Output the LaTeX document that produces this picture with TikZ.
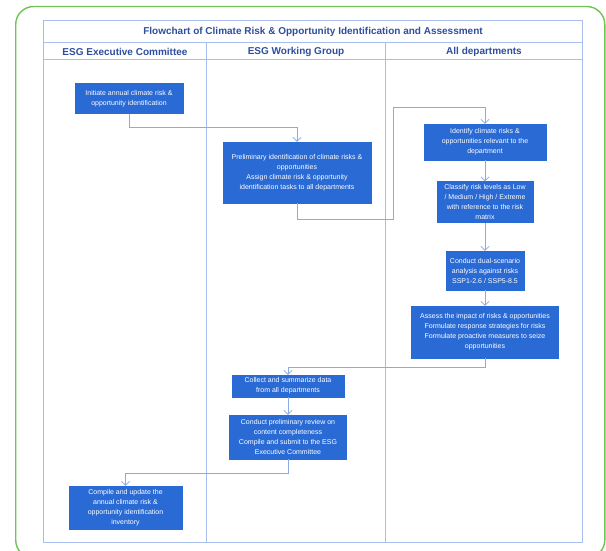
\documentclass[tikz,border=0pt]{standalone}
\usepackage{fontspec}
\setmainfont{Liberation Sans}
\usetikzlibrary{arrows.meta}

\definecolor{frameGreen}{RGB}{110,196,84}
\definecolor{gridBlue}{RGB}{168,190,236}
\definecolor{boxBlue}{RGB}{42,106,212}
\definecolor{headBlue}{RGB}{46,78,158}
\definecolor{linkBlue}{RGB}{138,170,226}

\tikzset{
  stepbox/.style={fill=boxBlue, draw=boxBlue, text=white, align=center,
    inner sep=1pt, font=\fontsize{7}{10}\selectfont},
  headtext/.style={text=headBlue, font=\bfseries\fontsize{10}{12}\selectfont},
  gridline/.style={draw=gridBlue, line width=0.9pt},
  link/.style={draw=linkBlue, line width=0.8pt,
    -{Straight Barb[length=3.8pt,width=8pt]}},
}

\begin{document}
\begin{tikzpicture}[x=1pt,y=-1pt]
  \useasboundingbox (0,0) rectangle (606,551);
  \fill[white] (0,0) rectangle (606,551);

  % outer green frame
  \draw[frameGreen, line width=1.4pt, rounded corners=18pt]
    (15.7,6.5) rectangle (604.8,558);

  % swimlane table
  \draw[gridline] (43.5,20) rectangle (582.5,542.5);
  \draw[gridline] (43.5,42.5) -- (582.5,42.5);
  \draw[gridline] (43.5,59.5) -- (582.5,59.5);
  \draw[gridline] (206,42.5) -- (206,542.5);
  \draw[gridline] (385.5,42.5) -- (385.5,542.5);

  \node[headtext] (title) at (313,31.5)
    {Flowchart of Climate Risk \& Opportunity Identification and Assessment};
  \node[headtext] (laneA) at (125,51.5) {ESG Executive Committee};
  \node[headtext] (laneB) at (296,51.5) {ESG Working Group};
  \node[headtext] (laneC) at (484,51.5) {All departments};

  % process steps
  \node[stepbox, minimum width=108pt, minimum height=30pt] (n1) at (129,98.5)
    {Initiate annual climate risk \&\\opportunity identification};
  \node[stepbox, minimum width=148pt, minimum height=61pt] (n2) at (297,172.5)
    {Preliminary identification of climate risks \&\\opportunities\\Assign climate risk \& opportunity\\identification tasks to all departments};
  \node[stepbox, minimum width=122pt, minimum height=36pt] (n3) at (485,142)
    {Identify climate risks \&\\opportunities relevant to the\\department};
  \node[stepbox, minimum width=96pt, minimum height=41pt] (n4) at (485,202)
    {Classify risk levels as Low\\/ Medium / High / Extreme\\with reference to the risk\\matrix};
  \node[stepbox, minimum width=78pt, minimum height=39pt] (n5) at (485,270.5)
    {Conduct dual-scenario\\analysis against risks\\SSP1-2.6 / SSP5-8.5};
  \node[stepbox, minimum width=147pt, minimum height=52pt] (n6) at (485,332)
    {Assess the impact of risks \& opportunities\\Formulate response strategies for risks\\Formulate proactive measures to seize\\opportunities};
  \node[stepbox, minimum width=112pt, minimum height=22pt] (n7) at (288,386)
    {Collect and summarize data\\from all departments};
  \node[stepbox, minimum width=117pt, minimum height=44pt] (n8) at (288,437)
    {Conduct preliminary review on\\content completeness\\Compile and submit to the ESG\\Executive Committee};
  \node[stepbox, minimum width=113pt, minimum height=43pt] (n9) at (125.5,507.5)
    {Compile and update the\\annual climate risk \&\\opportunity identification\\inventory};

  % routing points
  \coordinate (r1) at (0,127);
  \coordinate (r2) at (393,219);
  \coordinate (r3) at (393,107);
  \coordinate (r4) at (0,367);
  \coordinate (r5) at (0,473);

  % connectors
  \draw[link] (n1.south) |- (n2.north |- r1) -- (n2.north);
  \draw[link] (n2.south) |- (r2) -- (r3) -| (n3.north);
  \draw[link] (n3.south) -- (n4.north);
  \draw[link] (n4.south) -- (n5.north);
  \draw[link] (n5.south) -- (n6.north);
  \draw[link] (n6.south) |- (n7.north |- r4) -- (n7.north);
  \draw[link] (n7.south) -- (n8.north);
  \draw[link] (n8.south) |- (n9.north |- r5) -- (n9.north);
\end{tikzpicture}
\end{document}
